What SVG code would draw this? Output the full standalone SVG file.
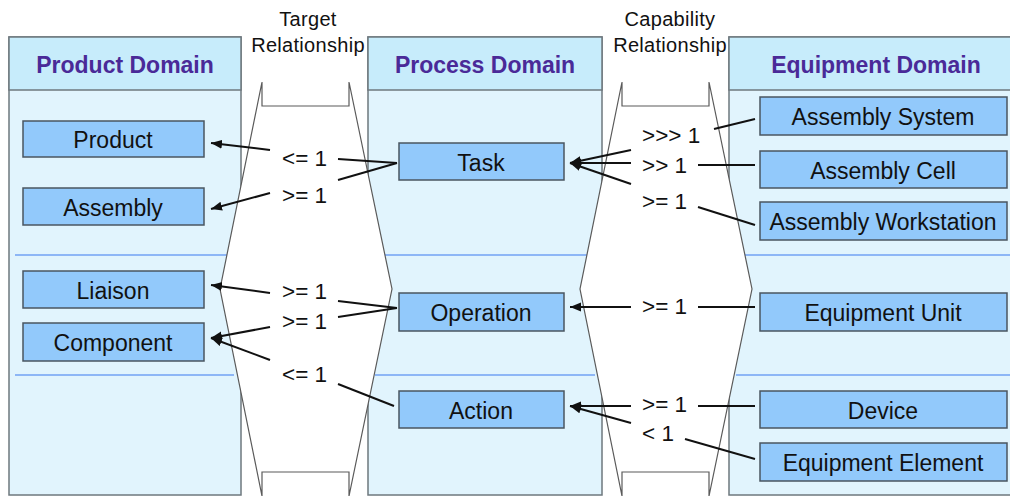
<svg xmlns="http://www.w3.org/2000/svg" width="1010" height="496" viewBox="0 0 1010 496">
  <style>
    .panel { fill: #e1f4fd; stroke: #6e787e; stroke-width: 1.5; }
    .head { fill: #c7ecfb; stroke: #6e787e; stroke-width: 1.5; }
    .htxt { font-family: "Liberation Sans", Arial, sans-serif; font-size: 23px; font-weight: bold; fill: #4a2a98; text-anchor: middle; }
    .sep { stroke: #8db6f6; stroke-width: 2; }
    .hex { fill: #ffffff; stroke: #5a5a5a; stroke-width: 1.2; }
    .cap { font-family: "Liberation Sans", Arial, sans-serif; font-size: 20px; letter-spacing: 0.3px; fill: #111; text-anchor: middle; }
    .node rect { fill: #92c9fb; stroke: #4a5560; stroke-width: 1.5; }
    .node text { font-family: "Liberation Sans", Arial, sans-serif; font-size: 23px; fill: #111; text-anchor: middle; }
    .conn line { stroke: #111; stroke-width: 2; }
    .arr { marker-end: url(#head); }
    .lbl { font-family: "Liberation Sans", Arial, sans-serif; font-size: 22.5px; fill: #111; }
  </style>
  <defs>
    <marker id="head" markerUnits="userSpaceOnUse" markerWidth="12" markerHeight="10" refX="11" refY="4.5" orient="auto">
      <path d="M0,0 L11,4.5 L0,9 Z" fill="#111"/>
    </marker>
  </defs>

  <rect width="1010" height="496" fill="#ffffff"/>

  <!-- domain panels -->
  <g id="product-domain">
    <rect class="panel" x="9" y="37" width="232" height="458"/>
    <rect class="head" x="9" y="37" width="232" height="53"/>
    <text class="htxt" x="125" y="73">Product Domain</text>
    <line class="sep" x1="15" y1="255" x2="234" y2="255"/>
    <line class="sep" x1="15" y1="375" x2="234" y2="375"/>
  </g>
  <g id="process-domain">
    <rect class="panel" x="368" y="37" width="234" height="458"/>
    <rect class="head" x="368" y="37" width="234" height="53"/>
    <text class="htxt" x="485" y="73">Process Domain</text>
    <line class="sep" x1="375" y1="255" x2="595" y2="255"/>
    <line class="sep" x1="375" y1="375" x2="595" y2="375"/>
  </g>
  <g id="equipment-domain">
    <rect class="panel" x="729" y="37" width="290" height="458"/>
    <rect class="head" x="729" y="37" width="290" height="53"/>
    <text class="htxt" x="876" y="73">Equipment Domain</text>
    <line class="sep" x1="736" y1="255" x2="1010" y2="255"/>
    <line class="sep" x1="736" y1="375" x2="1010" y2="375"/>
  </g>

  <!-- relationship bands -->
  <g id="target-relationship">
    <polygon class="hex" points="262,82 262,106 349,106 349,82 392,289 349,496 349,472 262,472 262,496 220,289"/>
    <text class="cap" x="308" y="26">Target</text>
    <text class="cap" x="308" y="52">Relationship</text>
  </g>
  <g id="capability-relationship">
    <polygon class="hex" points="622,82 622,106 709,106 709,82 752,289 709,496 709,472 622,472 622,496 580,289"/>
    <text class="cap" x="670" y="26">Capability</text>
    <text class="cap" x="670" y="52">Relationship</text>
  </g>

  <!-- product nodes -->
  <g id="product" class="node"><rect x="23" y="121" width="181" height="36"/><text x="113" y="148">Product</text></g>
  <g id="assembly" class="node"><rect x="23" y="188" width="181" height="37"/><text x="113" y="216">Assembly</text></g>
  <g id="liaison" class="node"><rect x="23" y="271" width="181" height="37"/><text x="113" y="299">Liaison</text></g>
  <g id="component" class="node"><rect x="23" y="323" width="181" height="38"/><text x="113" y="351">Component</text></g>

  <!-- process nodes -->
  <g id="task" class="node"><rect x="399" y="143" width="165" height="37"/><text x="481" y="171">Task</text></g>
  <g id="operation" class="node"><rect x="399" y="293" width="165" height="38"/><text x="481" y="321">Operation</text></g>
  <g id="action" class="node"><rect x="399" y="391" width="165" height="37"/><text x="481" y="419">Action</text></g>

  <!-- equipment nodes -->
  <g id="assembly-system" class="node"><rect x="760" y="97" width="247" height="38"/><text x="883" y="125">Assembly System</text></g>
  <g id="assembly-cell" class="node"><rect x="760" y="151" width="247" height="37"/><text x="883" y="179">Assembly Cell</text></g>
  <g id="assembly-workstation" class="node"><rect x="760" y="202" width="247" height="38"/><text x="883" y="230">Assembly Workstation</text></g>
  <g id="equipment-unit" class="node"><rect x="760" y="293" width="247" height="38"/><text x="883" y="321">Equipment Unit</text></g>
  <g id="device" class="node"><rect x="760" y="391" width="247" height="37"/><text x="883" y="419">Device</text></g>
  <g id="equipment-element" class="node"><rect x="760" y="443" width="247" height="38"/><text x="883" y="471">Equipment Element</text></g>

  <!-- connectors -->
  <g id="connectors" class="conn">
    <!-- target relationship: process to product -->
    <line class="arr" x1="270" y1="150" x2="211" y2="143"/>
    <line x1="338" y1="159" x2="397" y2="163"/>
    <line x1="338" y1="180" x2="397" y2="163"/>
    <line class="arr" x1="270" y1="193" x2="211" y2="209"/>
    <line class="arr" x1="270" y1="293" x2="211" y2="285"/>
    <line x1="338" y1="301" x2="397" y2="308"/>
    <line x1="338" y1="317" x2="397" y2="308"/>
    <line class="arr" x1="270" y1="327" x2="211" y2="338"/>
    <line class="arr" x1="270" y1="360" x2="211" y2="338"/>
    <line x1="338" y1="384" x2="394" y2="406"/>
    <!-- capability relationship: equipment to process -->
    <line class="arr" x1="631" y1="150" x2="570" y2="163"/>
    <line class="arr" x1="631" y1="163" x2="570" y2="163"/>
    <line class="arr" x1="631" y1="184" x2="570" y2="163"/>
    <line x1="714" y1="129" x2="755" y2="119"/>
    <line x1="698" y1="165" x2="755" y2="165"/>
    <line x1="698" y1="207" x2="755" y2="225"/>
    <line class="arr" x1="631" y1="307" x2="570" y2="307"/>
    <line x1="698" y1="307" x2="755" y2="307"/>
    <line class="arr" x1="631" y1="406" x2="570" y2="406"/>
    <line class="arr" x1="631" y1="423" x2="570" y2="406"/>
    <line x1="698" y1="406" x2="755" y2="406"/>
    <line x1="685" y1="439" x2="755" y2="459"/>
  </g>

  <!-- cardinality labels -->
  <g id="labels" class="lbl">
    <text x="282" y="166">&lt;= 1</text>
    <text x="282" y="203">&gt;= 1</text>
    <text x="282" y="299">&gt;= 1</text>
    <text x="282" y="329">&gt;= 1</text>
    <text x="282" y="382">&lt;= 1</text>
    <text x="642" y="143">&gt;&gt;&gt; 1</text>
    <text x="642" y="173">&gt;&gt; 1</text>
    <text x="642" y="209">&gt;= 1</text>
    <text x="642" y="314">&gt;= 1</text>
    <text x="642" y="412">&gt;= 1</text>
    <text x="642" y="441">&lt; 1</text>
  </g>
</svg>
